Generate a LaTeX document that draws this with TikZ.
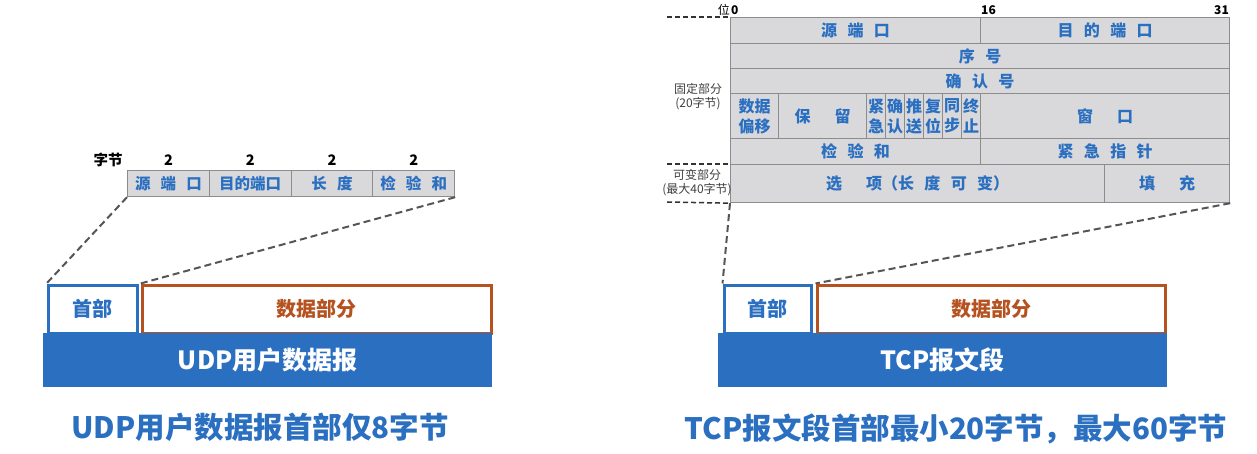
\documentclass[tikz,border=0pt]{standalone}
\usepackage{fontspec}
\setmainfont{Noto Sans CJK SC}
\usetikzlibrary{positioning}

\definecolor{hdrblue}{HTML}{2B6FC1}
\definecolor{datarust}{HTML}{B5521F}
\definecolor{cellgray}{HTML}{D9D9DB}
\definecolor{cellline}{HTML}{8C8C8C}
\definecolor{dashgray}{HTML}{555555}

\newcommand\cgap{\hspace{0.65em}}
\newcommand\wgap{\hspace{1.5em}}

\tikzset{
  cell/.style 2 args={draw=cellline, fill=cellgray, line width=1.2pt, inner sep=0pt,
    anchor=north west, minimum width=#1pt, minimum height=#2pt, text=hdrblue, align=center},
  udptext/.style={font=\bfseries\fontsize{15.5}{18}\selectfont},
  tcptext/.style={font=\bfseries\fontsize{16}{20}\selectfont},
  bitlabel/.style={font=\bfseries\fontsize{12}{14}\selectfont, inner sep=0pt},
  bytelabel/.style={font=\bfseries\fontsize{14.5}{16}\selectfont, inner sep=0pt},
  sidelabel/.style={font=\fontsize{12}{14}\selectfont, text=black!75, align=center, inner sep=0pt},
  headbox/.style={draw=hdrblue, line width=3pt, fill=white, anchor=north west, inner sep=0pt,
    minimum height=48pt, text=hdrblue, font=\bfseries\fontsize{20}{24}\selectfont},
  databox/.style={headbox, draw=datarust, text=datarust},
  segbar/.style={fill=hdrblue, anchor=north west, inner sep=0pt, minimum width=449pt,
    minimum height=54pt, text=white, font=\bfseries\fontsize{25}{30}\selectfont},
  caption/.style={text=hdrblue, font=\bfseries\fontsize{29.5}{34}\selectfont},
  zoomline/.style={draw=dashgray, line width=2pt, dash pattern=on 7pt off 4pt},
  sideline/.style={draw=black!80, line width=1.5pt, dash pattern=on 5pt off 3pt}
}

\begin{document}
\begin{tikzpicture}[x=1pt, y=-1pt]
  \useasboundingbox (0,0) rectangle (1257,454);
  \def\ux{127} % left edge of the UDP header
  \def\uw{81.75} % width of each UDP field
  \def\fw{19} % width of each TCP flag
  % UDP header fields
  \node[bytelabel] (bytes) at (108,160) {字节};
  \foreach \n/\t [count=\i from 0] in {src/源\cgap 端\cgap 口, dst/目的端口, len/长\cgap 度, sum/检\cgap 验\cgap 和} {
    \node[cell={\uw}{26}, udptext] (udp\n) at (\ux+\i*\uw, 170) {\t};
    \node[bytelabel, above=4pt of udp\n] (size\n) {2};
  }
  % UDP datagram
  \node[headbox, minimum width=89pt] (udphead) at (46.5,283.5) {首部};
  \node[databox, minimum width=349pt] (udpdata) at (140.5,283.5) {数据部分};
  \node[segbar] (udpbar) at (43,333) {UDP用户数据报};
  \draw[zoomline] (udpsrc.south west) -- (udphead.north west);
  \draw[zoomline] (udpsum.south east) -- (udpdata.north west);
  \node[caption] (udpcap) at (260,427) {UDP用户数据报首部仅8字节};

  % TCP header rows
  \node[cell={250}{26}, tcptext] (tcpsrc) at (730,17) {源\cgap 端\cgap 口};
  \node[cell={249}{26}, tcptext] (tcpdst) at (980,17) {目\cgap 的\cgap 端\cgap 口};
  \node[cell={499}{25}, tcptext] (tcpseq) at (730,43) {序\cgap 号};
  \node[cell={499}{25}, tcptext] (tcpack) at (730,68) {确\cgap 认\cgap 号};
  \node[cell={48}{45}, tcptext] (tcpoff) at (730,93) {数据\\偏移};
  \node[cell={88}{45}, tcptext] (tcpres) at (778,93) {保\wgap 留};
  \foreach \n/\t [count=\i from 0] in {urg/紧\\急, akf/确\\认, psh/推\\送, rst/复\\位, syn/同\\步, fin/终\\止} {
    \node[cell={\fw}{45}, tcptext] (tcp\n) at (866+\i*\fw, 93) {\t};
  }
  \node[cell={249}{45}, tcptext] (tcpwin) at (980,93) {窗\wgap 口};
  \node[cell={250}{26}, tcptext] (tcpsum) at (730,138) {检\cgap 验\cgap 和};
  \node[cell={249}{26}, tcptext] (tcpurp) at (980,138) {紧\cgap 急\cgap 指\cgap 针};
  \node[cell={374}{38}, tcptext] (tcpopt) at (730,164) {选\wgap 项（长\cgap 度\cgap 可\cgap 变）};
  \node[cell={125}{38}, tcptext] (tcppad) at (1104,164) {填\wgap 充};
  % bit positions
  \node[bitlabel, anchor=south west] (bit0) at (731,15) {0};
  \node[bitlabel, font=\fontsize{12}{14}\selectfont, left=1pt of bit0] (bitword) {位};
  \node[bitlabel, anchor=south west] (bit16) at (981,15) {16};
  \node[bitlabel, anchor=south east] (bit31) at (1229,15) {31};
  % fixed and variable parts
  \coordinate (topend) at (667,17);
  \coordinate (fixend) at (667,164);
  \coordinate (varend) at (667,202);
  \draw[sideline] (topend) -- (tcpsrc.north west);
  \draw[sideline] (fixend) -- (tcpopt.north west);
  \draw[sideline] (varend) -- (tcpopt.south west);
  \node[sidelabel] (fixlabel) at (698,97) {固定部分\\(20字节)};
  \node[sidelabel] (varlabel) at (697,183) {可变部分\\(最大40字节)};
  % TCP segment
  \node[headbox, minimum width=87pt] (tcphead) at (722.5,283.5) {首部};
  \node[databox, minimum width=348pt] (tcpdata) at (815.5,283.5) {数据部分};
  \node[segbar] (tcpbar) at (718,333) {TCP报文段};
  \draw[zoomline] (tcpopt.south west) -- (tcphead.north west);
  \draw[zoomline] (tcppad.south east) -- (tcpdata.north west);
  \node[caption] (tcpcap) at (956,429) {TCP报文段首部最小20字节，最大60字节};
\end{tikzpicture}
\end{document}
